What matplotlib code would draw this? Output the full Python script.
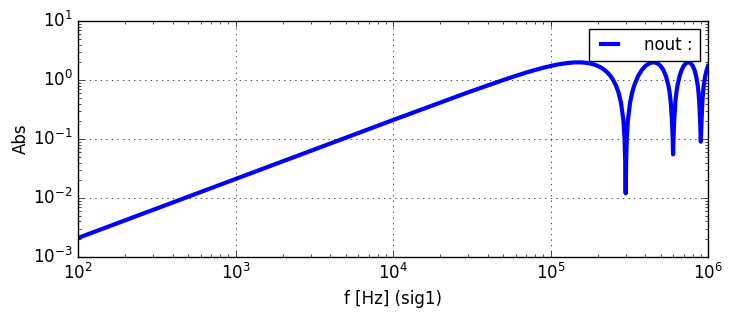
import matplotlib
matplotlib.use('Agg')
import matplotlib.pyplot as plt

plt.style.use('classic')

# values (frequency in Hz, magnitude)
freq = [1e2, 1e3, 1e4, 2e4, 3e4, 4e4, 5e4, 6e4, 7e4, 8e4, 9e4, 1e5,
        1.1e5, 1.2e5, 1.3e5, 1.4e5, 1.5e5, 1.6e5, 1.7e5, 1.8e5, 1.9e5,
        2.0e5, 2.1e5, 2.2e5, 2.3e5, 2.4e5, 2.5e5, 2.6e5, 2.7e5, 2.8e5,
        2.9e5, 2.95e5, 2.98e5, 3.0e5,
        3.02e5, 3.05e5, 3.1e5, 3.2e5, 3.3e5, 3.4e5, 3.6e5, 3.8e5, 4.0e5,
        4.2e5, 4.35e5, 4.5e5, 4.65e5, 4.8e5, 5.0e5, 5.2e5, 5.4e5, 5.6e5,
        5.7e5, 5.8e5, 5.9e5, 5.95e5, 6.0e5, 6.05e5, 6.1e5, 6.2e5, 6.3e5,
        6.4e5, 6.6e5, 6.8e5, 7.0e5, 7.2e5, 7.35e5, 7.5e5, 7.65e5, 7.8e5,
        8.0e5, 8.2e5, 8.4e5, 8.6e5, 8.7e5, 8.8e5, 8.9e5, 8.95e5, 9.0e5,
        9.05e5, 9.1e5, 9.2e5, 9.3e5, 9.4e5, 9.6e5, 9.8e5, 1.0e6]
mag = [2.1e-3, 2.1e-2, 0.21, 0.416, 0.62, 0.813, 1.0, 1.176, 1.34, 1.486,
       1.618, 1.73,
       1.827, 1.9, 1.955, 1.989, 2.0, 1.989, 1.955, 1.9, 1.827,
       1.73, 1.618, 1.486, 1.34, 1.176, 1.0, 0.813, 0.62, 0.416,
       0.21, 0.105, 0.042, 0.012,
       0.042, 0.105, 0.21, 0.416, 0.62, 0.813, 1.176, 1.486, 1.73,
       1.9, 1.972, 2.0, 1.972, 1.9, 1.73, 1.486, 1.176, 0.813,
       0.62, 0.416, 0.21, 0.12, 0.055, 0.12, 0.21, 0.416, 0.62,
       0.813, 1.176, 1.486, 1.73, 1.9, 1.972, 2.0, 1.972, 1.9,
       1.73, 1.486, 1.176, 0.813, 0.62, 0.416, 0.21, 0.14, 0.09,
       0.14, 0.21, 0.416, 0.62, 0.813, 1.176, 1.486, 1.73]

fig = plt.figure(figsize=(7.36, 3.2), dpi=100, facecolor='white')
ax = fig.add_axes([0.106, 0.197, 0.856, 0.737])

ax.loglog(freq, mag, color='b', lw=3, label='nout :')
ax.set_xlim(1e2, 1e6)
ax.set_ylim(1e-3, 1e1)
ax.grid(True)
ax.set_xlabel('f [Hz] (sig1)')
ax.set_ylabel('Abs', labelpad=2)
ax.legend(loc='upper right', fontsize=12, handlelength=1.6, handletextpad=1.3)

fig.savefig('out.png', dpi=100, facecolor='white')
